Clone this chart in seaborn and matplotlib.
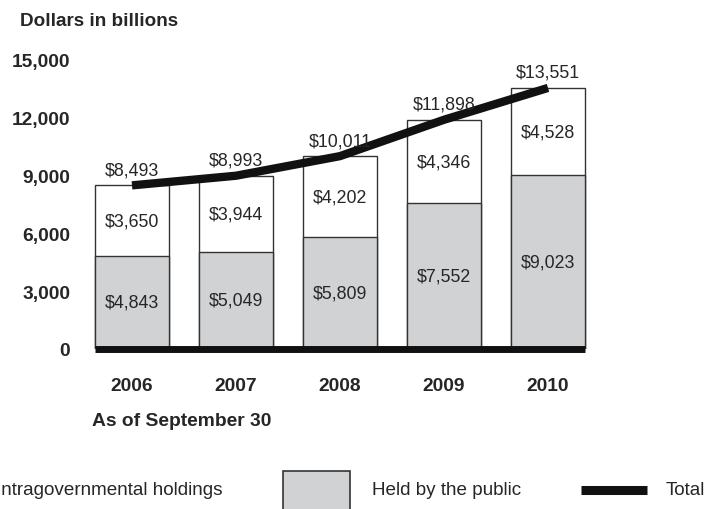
import numpy as np
import pandas as pd
import matplotlib
matplotlib.use("Agg")
import matplotlib.pyplot as plt
from matplotlib.patches import Rectangle
from matplotlib.lines import Line2D
import seaborn as sns

years = ["2006", "2007", "2008", "2009", "2010"]
public = [4843, 5049, 5809, 7552, 9023]
intragov = [3650, 3944, 4202, 4346, 4528]
total = [8493, 8993, 10011, 11898, 13551]
y_ticks = [0, 3000, 6000, 9000, 12000, 15000]

GRAY = "#d1d2d4"
EDGE = "#333333"
W, H = 719, 510

sns.set_style("white")
plt.rcParams["font.family"] = ["Liberation Sans", "DejaVu Sans"]

df = pd.DataFrame({"year": years, "public": public, "intragov": intragov, "total": total})

fig = plt.figure(figsize=(W / 100, H / 100), dpi=100)
ax = fig.add_axes([80 / W, 160 / H, 520 / W, 289 / H])

bw = 0.72
# white total bar underneath, gray public bar on top -> stacked look
sns.barplot(data=df, x="year", y="total", color="white", width=bw, saturation=1,
            edgecolor=EDGE, linewidth=1, ax=ax)
sns.barplot(data=df, x="year", y="public", color=GRAY, width=bw, saturation=1,
            edgecolor=EDGE, linewidth=1, ax=ax)

pos = np.arange(len(years))
sns.lineplot(x=pos, y=df["total"], color="#111111", linewidth=6, ax=ax,
             solid_capstyle="butt")
# baseline
ax.plot([pos[0] - bw / 2, pos[-1] + bw / 2], [0, 0], color="#111111", lw=5,
        solid_capstyle="butt", clip_on=False, zorder=5)

for i in range(len(years)):
    ax.text(pos[i], public[i] / 2, f"${public[i]:,}", ha="center", va="center", fontsize=12.8)
    ax.text(pos[i], public[i] + intragov[i] / 2, f"${intragov[i]:,}", ha="center",
            va="center", fontsize=12.8)
    ax.annotate(f"${total[i]:,}", (pos[i], total[i]), xytext=(0, 8),
                textcoords="offset points", ha="center", va="baseline", fontsize=12.8)

ax.set_xlim(-0.5, len(years) - 0.5)
ax.set_ylim(0, 15000)
ax.set_yticks(y_ticks)
ax.set_yticklabels([f"{v:,}" for v in y_ticks], fontweight="bold", fontsize=13.8)
ax.set_xticks(pos)
ax.set_xticklabels(years, fontweight="bold", fontsize=13.8)
ax.tick_params(axis="x", length=0, pad=20)
ax.tick_params(axis="y", length=0, pad=7)
ax.set_xlabel("")
ax.set_ylabel("")
for s in ax.spines.values():
    s.set_visible(False)


def fx(px):
    return px / W


def fy(py):
    return 1 - py / H


fig.text(fx(20), fy(22), "Dollars in billions", fontweight="bold", fontsize=13.6,
         ha="left", va="center")
fig.text(fx(92), fy(422), "As of September 30", fontweight="bold", fontsize=13.9,
         ha="left", va="center")

# legend
leg_y = 491
fig.add_artist(Rectangle((fx(-80), fy(520)), fx(67), 48 / H, facecolor="white",
                         edgecolor=EDGE, lw=1.2, transform=fig.transFigure))
fig.text(fx(-4), fy(leg_y), "Intragovernmental holdings", fontsize=13.6, ha="left", va="center")
fig.add_artist(Rectangle((fx(283), fy(520)), fx(67), 48 / H, facecolor=GRAY,
                         edgecolor=EDGE, lw=1.2, transform=fig.transFigure))
fig.text(fx(372), fy(leg_y), "Held by the public", fontsize=13.6, ha="left", va="center")
fig.add_artist(Line2D([fx(581), fx(647)], [fy(leg_y), fy(leg_y)], color="#111111", lw=6.5,
                      solid_capstyle="butt", transform=fig.transFigure))
fig.text(fx(666), fy(leg_y), "Total", fontsize=13.6, ha="left", va="center")

fig.savefig("out.png", dpi=100)
